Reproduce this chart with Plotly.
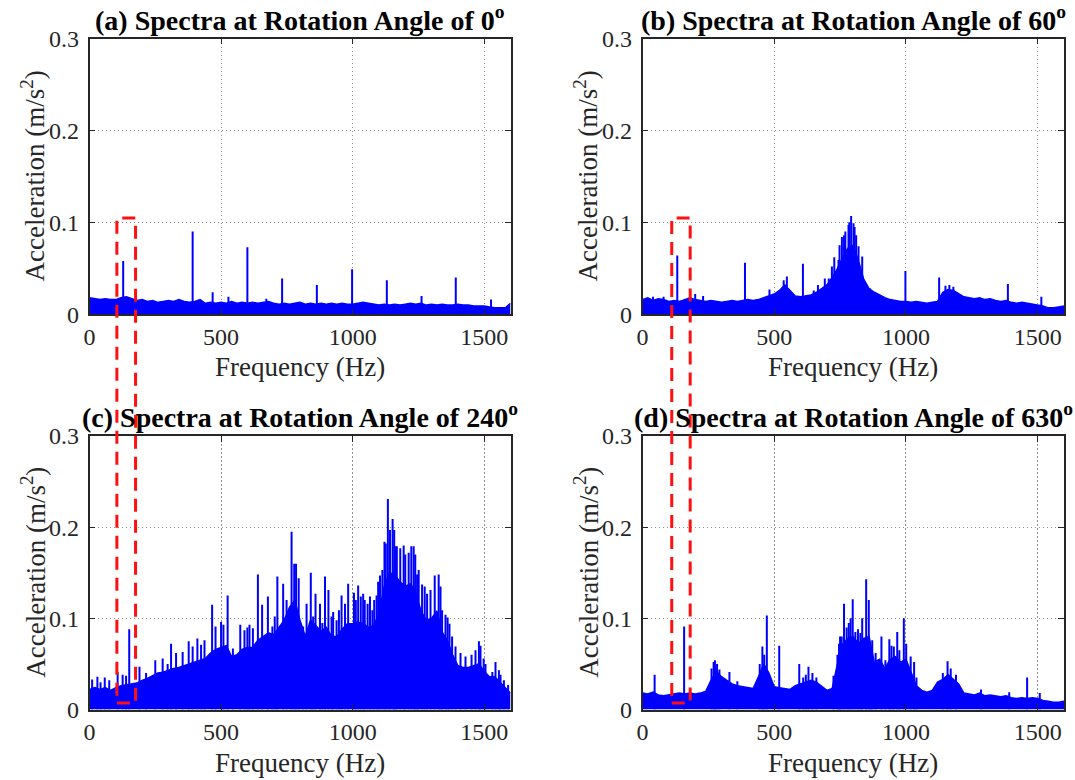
import plotly.graph_objects as go

# frequency grid of the noise band (Hz)
freq = list(range(0, 1601, 20))

# (a) 0 deg
band_a = [0.018, 0.017, 0.016, 0.017, 0.016, 0.016, 0.018, 0.019, 0.017, 0.015,
          0.016, 0.014, 0.015, 0.013, 0.014, 0.015, 0.014, 0.016, 0.014, 0.013,
          0.014, 0.016, 0.012, 0.013, 0.012, 0.013, 0.012, 0.014, 0.012, 0.013,
          0.012, 0.013, 0.012, 0.013, 0.014, 0.012, 0.011, 0.012, 0.011, 0.012,
          0.013, 0.011, 0.012, 0.011, 0.012, 0.011, 0.012, 0.011, 0.012, 0.011,
          0.011, 0.012, 0.013, 0.012, 0.011, 0.010, 0.011, 0.010, 0.011, 0.010,
          0.011, 0.012, 0.011, 0.012, 0.010, 0.011, 0.010, 0.011, 0.010, 0.010,
          0.011, 0.010, 0.010, 0.009, 0.009, 0.009, 0.008, 0.007, 0.007, 0.007,
          0.012]
peak_f_a = [128, 392, 468, 528, 600, 672, 732, 864, 998, 1130, 1262, 1392, 1526]
peak_v_a = [0.058, 0.090, 0.024, 0.019, 0.073, 0.017, 0.039, 0.032, 0.049, 0.037,
            0.020, 0.040, 0.016]

# (b) 60 deg
band_b = [0.016, 0.018, 0.015, 0.017, 0.016, 0.014, 0.015, 0.014, 0.016, 0.018,
          0.016, 0.015, 0.014, 0.015, 0.014, 0.013, 0.014, 0.015, 0.014, 0.015,
          0.016, 0.015, 0.016, 0.018, 0.020, 0.022, 0.026, 0.032, 0.026, 0.020,
          0.019, 0.020, 0.021, 0.024, 0.028, 0.032, 0.040, 0.050, 0.062, 0.072,
          0.075, 0.058, 0.038, 0.028, 0.024, 0.021, 0.018, 0.016, 0.015, 0.014,
          0.014, 0.013, 0.014, 0.013, 0.012, 0.013, 0.014, 0.024, 0.027, 0.026,
          0.022, 0.019, 0.018, 0.017, 0.018, 0.016, 0.017, 0.015, 0.014, 0.015,
          0.013, 0.012, 0.013, 0.012, 0.011, 0.010, 0.009, 0.007, 0.007, 0.008,
          0.009]
peak_f_b = [40, 80, 132, 200, 230, 389, 482, 536, 548, 609, 650, 666, 692, 707,
            719, 728, 744, 748, 757, 765, 770, 782, 785, 792, 801, 805, 811, 820,
            834, 845, 864, 998, 1126, 1150, 1165, 1180, 1387, 1514]
peak_v_b = [0.019, 0.019, 0.064, 0.022, 0.020, 0.056, 0.027, 0.037, 0.041, 0.055,
            0.026, 0.032, 0.039, 0.039, 0.052, 0.062, 0.059, 0.075, 0.084, 0.086,
            0.090, 0.097, 0.100, 0.107, 0.099, 0.095, 0.086, 0.074, 0.063, 0.030,
            0.028, 0.047, 0.040, 0.031, 0.032, 0.030, 0.033, 0.019]

# (c) 240 deg
band_c = [0.022, 0.024, 0.022, 0.024, 0.021, 0.024, 0.026, 0.027, 0.028, 0.029,
          0.032, 0.034, 0.037, 0.040, 0.041, 0.043, 0.045, 0.046, 0.048, 0.050,
          0.052, 0.054, 0.056, 0.062, 0.066, 0.068, 0.070, 0.058, 0.060, 0.066,
          0.068, 0.068, 0.076, 0.080, 0.084, 0.082, 0.090, 0.098, 0.112, 0.120,
          0.098, 0.080, 0.098, 0.092, 0.086, 0.090, 0.080, 0.080, 0.088, 0.094,
          0.094, 0.096, 0.094, 0.090, 0.092, 0.105, 0.135, 0.150, 0.148, 0.140,
          0.135, 0.138, 0.128, 0.108, 0.098, 0.100, 0.108, 0.085, 0.076, 0.060,
          0.048, 0.046, 0.046, 0.048, 0.050, 0.042, 0.036, 0.036, 0.030, 0.023,
          0.018]
peak_f_c = [10, 30, 42, 58, 75, 107, 126, 139, 151, 190, 215, 250, 278, 297, 310,
            329, 354, 377, 392, 410, 424, 437, 466, 479, 500, 509, 525, 545, 573,
            589, 600, 608, 621, 640, 656, 678, 695, 704, 714, 736, 749, 768, 778,
            785, 795, 812, 825, 841, 850, 859, 876, 885, 895, 908, 920, 926, 939,
            948, 958, 971, 983, 1005, 1012, 1021, 1031, 1040, 1046, 1057, 1066,
            1075, 1082, 1091, 1097, 1104, 1113, 1121, 1126, 1134, 1142, 1152, 1158,
            1162, 1168, 1181, 1194, 1200, 1213, 1223, 1232, 1238, 1245, 1251, 1264,
            1274, 1283, 1296, 1312, 1327, 1334, 1340, 1353, 1361, 1368, 1378, 1391,
            1410, 1429, 1452, 1467, 1480, 1486, 1498, 1505, 1531, 1543, 1556, 1562,
            1575, 1591]
peak_v_c = [0.033, 0.036, 0.030, 0.035, 0.032, 0.041, 0.038, 0.037, 0.088, 0.047,
            0.040, 0.054, 0.056, 0.050, 0.072, 0.062, 0.063, 0.075, 0.069, 0.078,
            0.071, 0.076, 0.115, 0.091, 0.096, 0.093, 0.125, 0.067, 0.093, 0.087,
            0.090, 0.093, 0.089, 0.148, 0.115, 0.124, 0.091, 0.102, 0.146, 0.138,
            0.120, 0.195, 0.160, 0.160, 0.144, 0.091, 0.116, 0.150, 0.102, 0.127,
            0.116, 0.095, 0.146, 0.131, 0.102, 0.107, 0.098, 0.109, 0.125, 0.116,
            0.138, 0.128, 0.120, 0.136, 0.124, 0.127, 0.120, 0.116, 0.124, 0.109,
            0.120, 0.125, 0.140, 0.147, 0.153, 0.184, 0.182, 0.231, 0.197, 0.209,
            0.197, 0.179, 0.179, 0.177, 0.180, 0.170, 0.172, 0.179, 0.179, 0.170,
            0.148, 0.153, 0.137, 0.135, 0.127, 0.131, 0.147, 0.148, 0.135, 0.109,
            0.104, 0.101, 0.094, 0.080, 0.069, 0.062, 0.058, 0.060, 0.065, 0.075,
            0.070, 0.056, 0.050, 0.041, 0.052, 0.043, 0.038, 0.032, 0.027]

# (d) 630 deg
band_d = [0.018, 0.017, 0.019, 0.016, 0.015, 0.016, 0.017, 0.018, 0.017, 0.018,
          0.017, 0.018, 0.020, 0.032, 0.042, 0.036, 0.032, 0.028, 0.026, 0.025,
          0.024, 0.023, 0.036, 0.050, 0.040, 0.025, 0.024, 0.023, 0.022, 0.026,
          0.028, 0.030, 0.032, 0.030, 0.026, 0.021, 0.023, 0.050, 0.072, 0.078,
          0.080, 0.072, 0.078, 0.080, 0.052, 0.055, 0.045, 0.055, 0.058, 0.052,
          0.055, 0.040, 0.026, 0.021, 0.019, 0.021, 0.030, 0.033, 0.038, 0.033,
          0.028, 0.018, 0.017, 0.016, 0.018, 0.015, 0.016, 0.015, 0.014, 0.015,
          0.013, 0.012, 0.013, 0.012, 0.013, 0.012, 0.010, 0.009, 0.008, 0.008,
          0.009]
peak_f_d = [46, 158, 262, 270, 275, 283, 292, 330, 360, 445, 455, 462, 472, 519,
            595, 610, 620, 630, 645, 660, 725, 740, 746, 750, 756, 765, 775, 783,
            790, 798, 808, 818, 827, 834, 849, 859, 866, 872, 885, 907, 922, 937,
            945, 954, 967, 975, 992, 1001, 1018, 1031, 1040, 1140, 1158, 1170,
            1190, 1285, 1392, 1460, 1508]
peak_v_d = [0.038, 0.091, 0.045, 0.052, 0.054, 0.050, 0.044, 0.041, 0.031, 0.050,
            0.069, 0.060, 0.103, 0.070, 0.050, 0.035, 0.038, 0.047, 0.040, 0.035,
            0.037, 0.060, 0.072, 0.080, 0.080, 0.116, 0.090, 0.095, 0.100, 0.121,
            0.085, 0.088, 0.084, 0.100, 0.143, 0.120, 0.070, 0.076, 0.062, 0.080,
            0.054, 0.077, 0.070, 0.069, 0.085, 0.065, 0.100, 0.072, 0.058, 0.052,
            0.035, 0.040, 0.053, 0.045, 0.038, 0.022, 0.019, 0.035, 0.018]

titles = ["(a) Spectra at Rotation Angle of 0<sup>o</sup>",
          "(b) Spectra at Rotation Angle of 60<sup>o</sup>",
          "(c) Spectra at Rotation Angle of 240<sup>o</sup>",
          "(d) Spectra at Rotation Angle of 630<sup>o</sup>"]
bands = [band_a, band_b, band_c, band_d]
peaks = [(peak_f_a, peak_v_a), (peak_f_b, peak_v_b),
         (peak_f_c, peak_v_c), (peak_f_d, peak_v_d)]

# red dashed zoom box (Hz) for left / right column
box_f = [(104, 175), (111, 181)]

W, H = 1075, 780
col_px = [(89.5, 510.5), (642.5, 1064)]
row_px = [(38.5, 314.3), (436, 709.5)]

FONT = "Liberation Serif, Times New Roman, serif"
BLUE = "#0000FF"
INK = "#262626"

fig = go.Figure()
annotations = []
shapes = []

for i in range(4):
    r, c = divmod(i, 2)
    s = "" if i == 0 else str(i + 1)
    x0, x1 = col_px[c]
    y0, y1 = row_px[r]

    fig.add_trace(go.Scatter(
        x=freq, y=bands[i], mode="lines", fill="tozeroy",
        line=dict(color=BLUE, width=1.5), fillcolor=BLUE,
        xaxis="x" + s, yaxis="y" + s, showlegend=False, hoverinfo="skip"))

    xs, ys = [], []
    for f, v in zip(*peaks[i]):
        xs += [f, f, None]
        ys += [0, v, None]
    fig.add_trace(go.Scatter(
        x=xs, y=ys, mode="lines", line=dict(color=BLUE, width=2),
        xaxis="x" + s, yaxis="y" + s, showlegend=False, hoverinfo="skip"))

    axis_common = dict(
        ticks="inside", ticklen=6, tickwidth=1, tickcolor=INK,
        showline=True, linecolor=INK, linewidth=1.5, mirror="ticks",
        showgrid=True, gridcolor="#8f8f8f", gridwidth=1, griddash="1.5px,2.5px",
        zeroline=False, automargin=False,
        tickfont=dict(family=FONT, size=24, color=INK),
    )
    fig.layout["xaxis" + s] = dict(
        domain=[x0 / W, x1 / W], anchor="y" + s, range=[0, 1600],
        tickvals=[0, 500, 1000, 1500], ticklabelstandoff=0, **axis_common)
    fig.layout["yaxis" + s] = dict(
        domain=[1 - y1 / H, 1 - y0 / H], anchor="x" + s, range=[0, 0.3],
        tickvals=[0, 0.1, 0.2, 0.3], ticktext=["0", "0.1", "0.2", "0.3"],
        ticklabelstandoff=4, **axis_common)

    xc = (x0 + x1) / 2
    annotations.append(dict(
        text="<b>" + titles[i] + "</b>", x=xc / W, y=1 - (y0 - 20.5) / H,
        xref="paper", yref="paper", xanchor="center", yanchor="middle",
        showarrow=False, font=dict(family=FONT, size=28, color="black")))
    annotations.append(dict(
        text="Frequency (Hz)", x=xc / W, y=1 - (y1 + 53) / H,
        xref="paper", yref="paper", xanchor="center", yanchor="middle",
        showarrow=False, font=dict(family=FONT, size=27, color=INK)))
    annotations.append(dict(
        text="Acceleration (m/s<sup>2</sup>)", x=(x0 - 56.5) / W,
        y=1 - (y0 + y1) / 2 / H, textangle=-90,
        xref="paper", yref="paper", xanchor="center", yanchor="middle",
        showarrow=False, font=dict(family=FONT, size=27, color=INK)))

# dashed red box running from panel (a)/(b) down into (c)/(d)
for c, s in enumerate(["", "2"]):
    fa, fb = box_f[c]
    shapes.append(dict(
        type="rect", xref="x" + s, yref="paper", x0=fa, x1=fb,
        y0=1 - 703 / H, y1=1 - 218 / H,
        line=dict(color="#FF1010", width=3, dash="13px,8px")))

fig.update_layout(
    width=W, height=H, margin=dict(l=0, r=0, t=0, b=0, pad=0),
    paper_bgcolor="white", plot_bgcolor="white",
    annotations=annotations, shapes=shapes,
)

fig.write_html("out.html", config={"displayModeBar": False},
               post_script="document.body.style.margin='0px';")
